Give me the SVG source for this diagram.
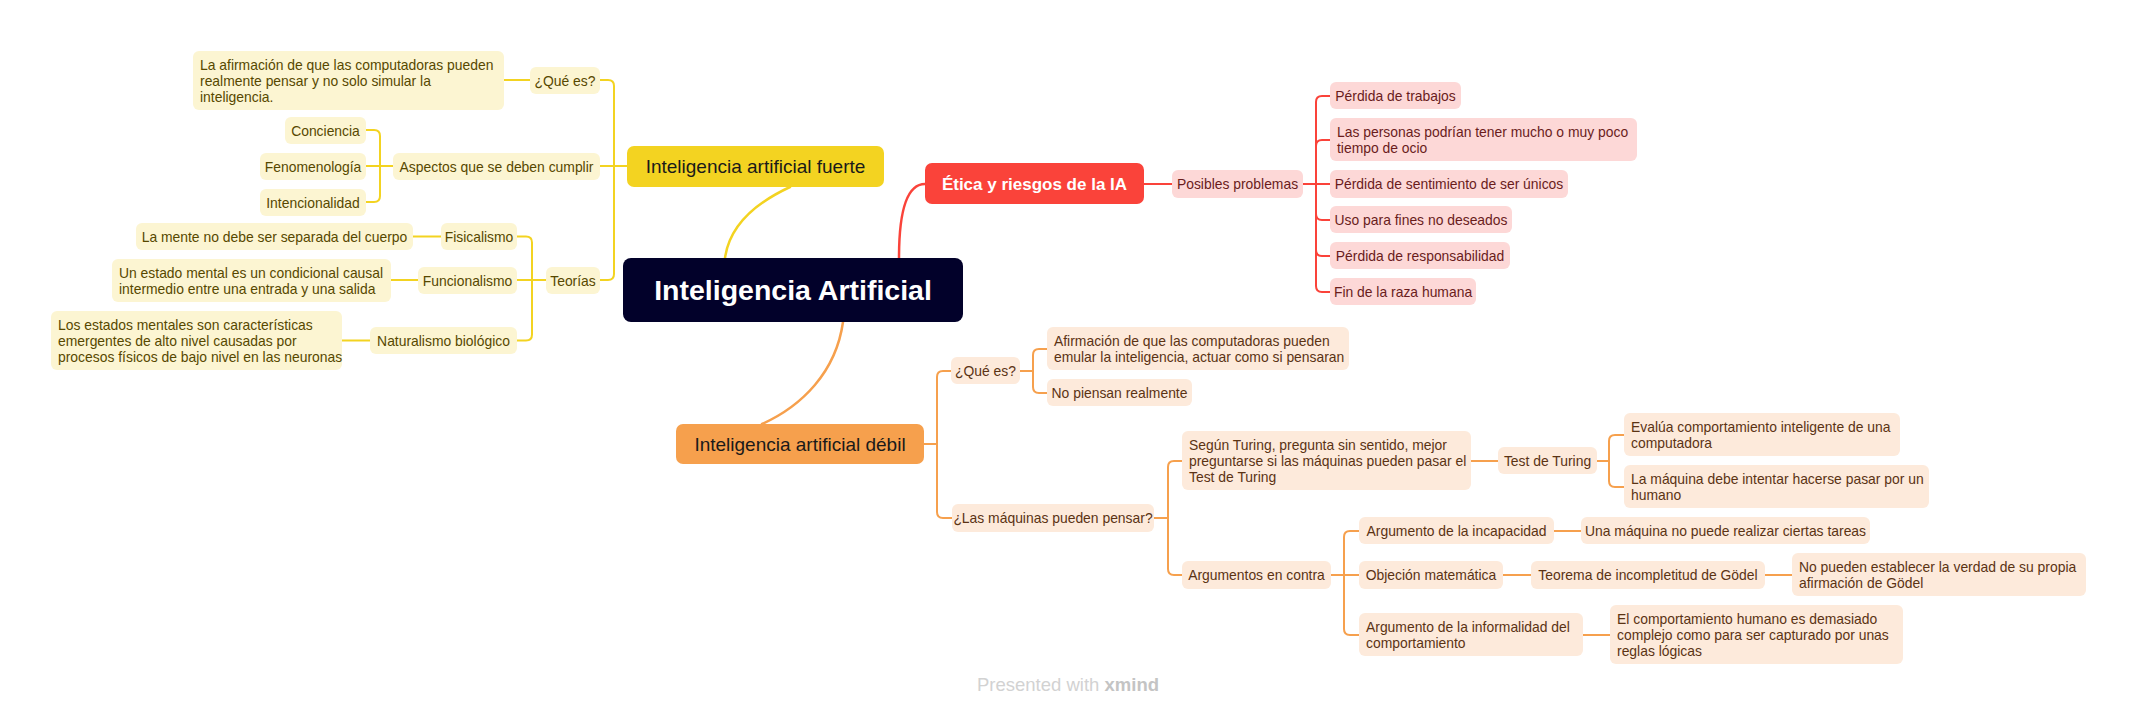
<svg xmlns="http://www.w3.org/2000/svg" width="2137" height="716" viewBox="0 0 2137 716">
<style>
text{font-family:"Liberation Sans",Arial,sans-serif;font-size:13.9px}
.y rect{fill:#fcf5d2}.y text{fill:#574800}
.r rect{fill:#fdd8d7}.r text{fill:#6a1c1c}
.o rect{fill:#fdeadb}.o text{fill:#5b3314}
.c{fill:none;stroke-width:2;stroke-linecap:round}
.cy{stroke:#f3d321}.cr{stroke:#fa433a}.co{stroke:#f6a04d}
.m text{font-size:19px}
.mid{text-anchor:middle}
text.title{font-size:28.5px;font-weight:bold;fill:#ffffff}
text.etica{font-size:17px;font-weight:bold;fill:#ffffff}
text.wm{font-size:18.5px;fill:#d2d2d2}
</style>
<rect width="2137" height="716" fill="#ffffff"/>
<g id="connectors">
  <path class="c cy" style="stroke-width:2.5" d="M790,187 C762,200 730,222 725,258"/>
  <path class="c cr" style="stroke-width:2.5" d="M899,258 C899,220 904,184 925,184"/>
  <path class="c co" style="stroke-width:2.5" d="M843,322 C836,372 802,406 762,424"/>
  <path class="c cy" d="M627,166 H600"/>
  <path class="c cy" d="M614,166 V86 Q614,80 608,80 H600"/>
  <path class="c cy" d="M614,166 V274 Q614,280 608,280 H600"/>
  <path class="c cy" d="M530,80 H504"/>
  <path class="c cy" d="M393,166 H366"/>
  <path class="c cy" d="M380,166 V136 Q380,130 374,130 H366"/>
  <path class="c cy" d="M380,166 V196 Q380,202 374,202 H366"/>
  <path class="c cy" d="M546,280 H517"/>
  <path class="c cy" d="M532,280 V242.5 Q532,236.5 526,236.5 H517"/>
  <path class="c cy" d="M532,280 V334.5 Q532,340.5 526,340.5 H517"/>
  <path class="c cy" d="M441,236.5 H413"/>
  <path class="c cy" d="M418,280 H391"/>
  <path class="c cy" d="M370,340.5 H342"/>
  <path class="c cr" d="M1144,184 H1172"/>
  <path class="c cr" d="M1303,184 H1330"/>
  <path class="c cr" d="M1316,184 V102 Q1316,96 1322,96 H1330"/>
  <path class="c cr" d="M1316,184 V146 Q1316,140 1322,140 H1330"/>
  <path class="c cr" d="M1316,184 V214 Q1316,220 1322,220 H1330"/>
  <path class="c cr" d="M1316,184 V250 Q1316,256 1322,256 H1330"/>
  <path class="c cr" d="M1316,184 V286 Q1316,292 1322,292 H1330"/>
  <path class="c co" d="M924,444 H937"/>
  <path class="c co" d="M937,444 V377 Q937,371 943,371 H951"/>
  <path class="c co" d="M937,444 V512 Q937,518 943,518 H952"/>
  <path class="c co" d="M1020,371 H1033"/>
  <path class="c co" d="M1033,371 V355 Q1033,349 1039,349 H1047"/>
  <path class="c co" d="M1033,371 V387 Q1033,393 1039,393 H1047"/>
  <path class="c co" d="M1154,518 H1168"/>
  <path class="c co" d="M1168,518 V467 Q1168,461 1174,461 H1182"/>
  <path class="c co" d="M1168,518 V569 Q1168,575 1174,575 H1182"/>
  <path class="c co" d="M1471,461 H1498"/>
  <path class="c co" d="M1597,461 H1609"/>
  <path class="c co" d="M1609,461 V441 Q1609,435 1615,435 H1624"/>
  <path class="c co" d="M1609,461 V481 Q1609,487 1615,487 H1624"/>
  <path class="c co" d="M1331,575 H1359"/>
  <path class="c co" d="M1344,575 V537 Q1344,531 1350,531 H1359"/>
  <path class="c co" d="M1344,575 V629 Q1344,635 1350,635 H1359"/>
  <path class="c co" d="M1554,531 H1581"/>
  <path class="c co" d="M1503,575 H1531"/>
  <path class="c co" d="M1765,575 H1792"/>
  <path class="c co" d="M1583,635 H1610"/>
</g>

<g id="central">
  <rect x="623" y="258" width="340" height="64" rx="8" fill="#02012a"/>
  <text x="793" y="300" class="mid title">Inteligencia Artificial</text>
</g>

<g id="fuerte" class="m">
  <rect x="627" y="146" width="257" height="41" rx="7" fill="#f3d321"/>
  <text x="755.5" y="173" class="mid" fill="#1a1a1a">Inteligencia artificial fuerte</text>
</g>
<g id="y-que" class="y"><rect x="530" y="67" width="70" height="27" rx="6"/><text x="565" y="85.5" class="mid">¿Qué es?</text></g>
<g id="y-que-desc" class="y"><rect x="193" y="51" width="311" height="59" rx="6"/>
  <text x="200" y="69.5">La afirmación de que las computadoras pueden</text>
  <text x="200" y="85.5">realmente pensar y no solo simular la</text>
  <text x="200" y="101.5">inteligencia.</text></g>
<g id="y-aspectos" class="y"><rect x="393" y="153" width="207" height="27" rx="6"/><text x="496.5" y="171.5" class="mid">Aspectos que se deben cumplir</text></g>
<g id="y-conciencia" class="y"><rect x="285" y="117" width="81" height="27" rx="6"/><text x="325.5" y="135.5" class="mid">Conciencia</text></g>
<g id="y-fenomenologia" class="y"><rect x="260" y="153" width="106" height="27" rx="6"/><text x="313" y="171.5" class="mid">Fenomenología</text></g>
<g id="y-intencionalidad" class="y"><rect x="260" y="189" width="106" height="27" rx="6"/><text x="313" y="207.5" class="mid">Intencionalidad</text></g>
<g id="y-teorias" class="y"><rect x="546" y="267" width="54" height="27" rx="6"/><text x="573" y="285.5" class="mid">Teorías</text></g>
<g id="y-fisicalismo" class="y"><rect x="441" y="223" width="76" height="27" rx="6"/><text x="479" y="241.5" class="mid">Fisicalismo</text></g>
<g id="y-fisicalismo-desc" class="y"><rect x="136" y="223" width="277" height="27" rx="6"/><text x="274.5" y="241.5" class="mid">La mente no debe ser separada del cuerpo</text></g>
<g id="y-funcionalismo" class="y"><rect x="418" y="267" width="99" height="27" rx="6"/><text x="467.5" y="285.5" class="mid">Funcionalismo</text></g>
<g id="y-funcionalismo-desc" class="y"><rect x="112" y="259" width="279" height="43" rx="6"/>
  <text x="119" y="277.5">Un estado mental es un condicional causal</text>
  <text x="119" y="293.5">intermedio entre una entrada y una salida</text></g>
<g id="y-naturalismo" class="y"><rect x="370" y="327" width="147" height="27" rx="6"/><text x="443.5" y="345.5" class="mid">Naturalismo biológico</text></g>
<g id="y-naturalismo-desc" class="y"><rect x="51" y="311" width="291" height="59" rx="6"/>
  <text x="58" y="329.5">Los estados mentales son características</text>
  <text x="58" y="345.5">emergentes de alto nivel causadas por</text>
  <text x="58" y="361.5">procesos físicos de bajo nivel en las neuronas</text></g>

<g id="etica">
  <rect x="925" y="163" width="219" height="41" rx="7" fill="#fa433a"/>
  <text x="1034.5" y="190" class="mid etica">Ética y riesgos de la IA</text>
</g>
<g id="r-posibles" class="r"><rect x="1172" y="170" width="131" height="28" rx="6"/><text x="1237.5" y="189" class="mid">Posibles problemas</text></g>
<g id="r-trabajos" class="r"><rect x="1330" y="82" width="131" height="27" rx="6"/><text x="1395.5" y="100.5" class="mid">Pérdida de trabajos</text></g>
<g id="r-ocio" class="r"><rect x="1330" y="118" width="307" height="43" rx="6"/>
  <text x="1337" y="136.5">Las personas podrían tener mucho o muy poco</text>
  <text x="1337" y="152.5">tiempo de ocio</text></g>
<g id="r-unicos" class="r"><rect x="1330" y="170" width="238" height="28" rx="6"/><text x="1449" y="189" class="mid">Pérdida de sentimiento de ser únicos</text></g>
<g id="r-fines" class="r"><rect x="1330" y="206" width="182" height="27" rx="6"/><text x="1421" y="224.5" class="mid">Uso para fines no deseados</text></g>
<g id="r-responsabilidad" class="r"><rect x="1330" y="242" width="180" height="27" rx="6"/><text x="1420" y="260.5" class="mid">Pérdida de responsabilidad</text></g>
<g id="r-raza" class="r"><rect x="1330" y="278" width="146" height="27" rx="6"/><text x="1403" y="296.5" class="mid">Fin de la raza humana</text></g>

<g id="debil" class="m">
  <rect x="676" y="424" width="248" height="40" rx="7" fill="#f6a04d"/>
  <text x="800" y="451" class="mid" fill="#1a1a1a">Inteligencia artificial débil</text>
</g>
<g id="o-que" class="o"><rect x="951" y="357" width="69" height="27" rx="6"/><text x="985.5" y="375.5" class="mid">¿Qué es?</text></g>
<g id="o-afirmacion" class="o"><rect x="1047" y="327" width="302" height="43" rx="6"/>
  <text x="1054" y="345.5">Afirmación de que las computadoras pueden</text>
  <text x="1054" y="361.5">emular la inteligencia, actuar como si pensaran</text></g>
<g id="o-nopiensan" class="o"><rect x="1047" y="379" width="145" height="27" rx="6"/><text x="1119.5" y="397.5" class="mid">No piensan realmente</text></g>
<g id="o-maquinas" class="o"><rect x="952" y="504" width="202" height="28" rx="6"/><text x="1053" y="523" class="mid">¿Las máquinas pueden pensar?</text></g>
<g id="o-segun" class="o"><rect x="1182" y="431" width="289" height="59" rx="6"/>
  <text x="1189" y="449.5">Según Turing, pregunta sin sentido, mejor</text>
  <text x="1189" y="465.5">preguntarse si las máquinas pueden pasar el</text>
  <text x="1189" y="481.5">Test de Turing</text></g>
<g id="o-test" class="o"><rect x="1498" y="447" width="99" height="27" rx="6"/><text x="1547.5" y="465.5" class="mid">Test de Turing</text></g>
<g id="o-evalua" class="o"><rect x="1624" y="413" width="276" height="43" rx="6"/>
  <text x="1631" y="431.5">Evalúa comportamiento inteligente de una</text>
  <text x="1631" y="447.5">computadora</text></g>
<g id="o-humano" class="o"><rect x="1624" y="465" width="305" height="43" rx="6"/>
  <text x="1631" y="483.5">La máquina debe intentar hacerse pasar por un</text>
  <text x="1631" y="499.5">humano</text></g>
<g id="o-argumentos" class="o"><rect x="1182" y="561" width="149" height="28" rx="6"/><text x="1256.5" y="580" class="mid">Argumentos en contra</text></g>
<g id="o-incapacidad" class="o"><rect x="1359" y="517" width="195" height="27" rx="6"/><text x="1456.5" y="535.5" class="mid">Argumento de la incapacidad</text></g>
<g id="o-tareas" class="o"><rect x="1581" y="517" width="289" height="27" rx="6"/><text x="1725.5" y="535.5" class="mid">Una máquina no puede realizar ciertas tareas</text></g>
<g id="o-objecion" class="o"><rect x="1359" y="561" width="144" height="28" rx="6"/><text x="1431" y="580" class="mid">Objeción matemática</text></g>
<g id="o-teorema" class="o"><rect x="1531" y="561" width="234" height="28" rx="6"/><text x="1648" y="580" class="mid">Teorema de incompletitud de Gödel</text></g>
<g id="o-verdad" class="o"><rect x="1792" y="553" width="294" height="43" rx="6"/>
  <text x="1799" y="571.5">No pueden establecer la verdad de su propia</text>
  <text x="1799" y="587.5">afirmación de Gödel</text></g>
<g id="o-informalidad" class="o"><rect x="1359" y="613" width="224" height="43" rx="6"/>
  <text x="1366" y="631.5">Argumento de la informalidad del</text>
  <text x="1366" y="647.5">comportamiento</text></g>
<g id="o-reglas" class="o"><rect x="1610" y="605" width="293" height="59" rx="6"/>
  <text x="1617" y="623.5">El comportamiento humano es demasiado</text>
  <text x="1617" y="639.5">complejo como para ser capturado por unas</text>
  <text x="1617" y="655.5">reglas lógicas</text></g>

<text x="1068" y="691" class="mid wm">Presented with <tspan font-weight="bold" fill="#c4c4c4">xmind</tspan></text>
</svg>
